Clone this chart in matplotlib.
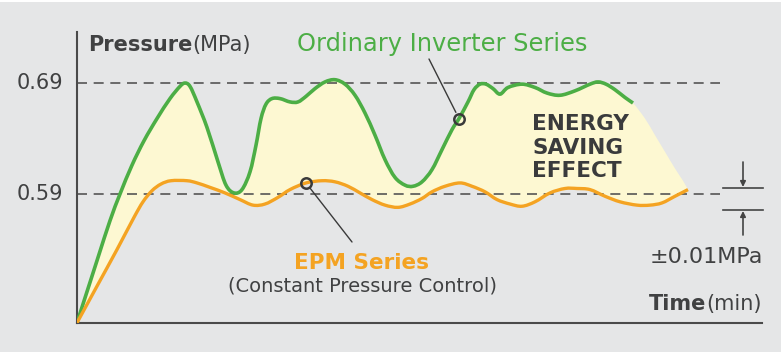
import matplotlib as mpl
mpl.use('Agg')
from matplotlib import pyplot as plt
from matplotlib.patches import Rectangle, PathPatch, FancyArrowPatch
from matplotlib.path import Path
import numpy as np

W, H = 781, 354

# time axis is arbitrary (no ticks), pressure in MPa
green_t = [0, 20, 33, 43, 55, 67, 80, 93, 103, 108, 113, 120, 130, 141, 149, 157,
           165, 173, 179, 184, 189, 195, 203, 213, 221, 229, 238, 248, 258, 268,
           278, 288, 298, 308, 318, 328, 336, 345, 355, 365, 375, 382, 391, 397,
           403, 409, 416, 423, 431, 445, 458, 470, 483, 498, 513, 521,
           529, 538, 548, 556]
green_p = [0.474, 0.530, 0.566, 0.590, 0.616, 0.638, 0.658, 0.676, 0.687, 0.690,
           0.687, 0.673, 0.650, 0.619, 0.598, 0.591, 0.594, 0.610, 0.634, 0.658,
           0.671, 0.676, 0.676, 0.673, 0.673, 0.678, 0.685, 0.691, 0.693, 0.689,
           0.679, 0.663, 0.643, 0.621, 0.605, 0.598, 0.597, 0.601, 0.612, 0.630,
           0.648, 0.658, 0.673, 0.684, 0.689, 0.689, 0.685, 0.680, 0.686, 0.689,
           0.686, 0.681, 0.679, 0.683, 0.689, 0.691, 0.689, 0.684, 0.677, 0.672]

# where the saving area keeps going after the green line stops
fade_t = [568, 578, 588, 598, 606]
fade_p = [0.658, 0.643, 0.628, 0.613, 0.602]

orange_t = [0, 20, 40, 57, 66, 75, 84, 94, 110, 120, 133, 148, 163, 176, 188, 201,
            213, 229, 245, 258, 271, 283, 295, 308, 321, 333, 345, 355, 368, 383,
            395, 408, 420, 433, 445, 458, 473, 488, 500, 513, 528, 543, 560,
            573, 585, 598, 611]
orange_p = [0.474, 0.507, 0.540, 0.569, 0.583, 0.593, 0.599, 0.602, 0.602, 0.600,
            0.596, 0.591, 0.585, 0.580, 0.581, 0.587, 0.594, 0.600, 0.602, 0.601,
            0.597, 0.591, 0.585, 0.580, 0.578, 0.581, 0.586, 0.592, 0.597, 0.600,
            0.597, 0.592, 0.585, 0.581, 0.579, 0.583, 0.591, 0.595, 0.595, 0.594,
            0.588, 0.583, 0.580, 0.580, 0.582, 0.588, 0.594]

ref_levels = [0.69, 0.59]
ref_labels = ['0.69', '0.59']
green_mark = (382, 0.658)
orange_mark = (229, 0.600)

GREEN = '#4cae45'
ORANGE = '#f4a322'
FILL = '#fdf8d2'
BG = '#e5e6e7'
DARK = '#404142'


def px(x, y):
    return x / W, 1 - y / H


def smooth_verts(t, p):
    """Catmull-Rom through the points, as cubic bezier path pieces."""
    pts = np.column_stack([t, p]).astype(float)
    ext = np.vstack([pts[0], pts, pts[-1]])
    verts = [pts[0]]
    codes = [Path.MOVETO]
    for i in range(len(pts) - 1):
        p0, p1, p2, p3 = ext[i], ext[i + 1], ext[i + 2], ext[i + 3]
        verts += [p1 + (p2 - p0) / 6, p2 - (p3 - p1) / 6, p2]
        codes += [Path.CURVE4] * 3
    return verts, codes


def smooth_line(ax, t, p, **kw):
    verts, codes = smooth_verts(t, p)
    ax.add_patch(PathPatch(Path(verts, codes), fill=False, capstyle='butt',
                           joinstyle='round', **kw))


fig = plt.figure(figsize=(W / 100, H / 100), dpi=100, facecolor='white')
fig.patches.append(Rectangle((0, 2 / H), 1, 1 - 4 / H, transform=fig.transFigure,
                             facecolor=BG, edgecolor='none', zorder=-10))

ax = fig.add_axes([77 / W, 1 - 323 / H, (762 - 77) / W, (323 - 32) / H])
ax.patch.set_visible(False)
ax.set_xlim(0, 685)
ax.set_ylim(0.4738, 0.736)
for side in ['top', 'right']:
    ax.spines[side].set_visible(False)
for side in ['left', 'bottom']:
    ax.spines[side].set_color('#4a4a4a')
    ax.spines[side].set_linewidth(1.5)
ax.set_xticks([])
ax.set_yticks([])

# saving area between the two series
up_v, up_c = smooth_verts(green_t + fade_t, green_p + fade_p)
lo_v, lo_c = smooth_verts(orange_t[::-1], orange_p[::-1])
lo_c = [Path.LINETO] + lo_c[1:]
area = Path(up_v + lo_v + [up_v[0]], up_c + lo_c + [Path.CLOSEPOLY])
ax.add_patch(PathPatch(area, facecolor=FILL, edgecolor='none', zorder=1))

for lvl, lab in zip(ref_levels, ref_labels):
    ax.plot([0, 643], [lvl, lvl], color='#555555', lw=1.2, ls=(0, (6, 4)), zorder=2)
    ax.text(-14, lvl, lab, ha='right', va='center', fontsize=15, color=DARK)

smooth_line(ax, green_t, green_p, edgecolor=GREEN, lw=2.6, zorder=3)
smooth_line(ax, orange_t, orange_p, edgecolor=ORANGE, lw=2.4, zorder=3)

for mark in [green_mark, orange_mark]:
    ax.plot(*mark, 'o', ms=7.5, mfc='none', mec='#3a3a3a', mew=1.8, zorder=4)

ax.annotate('', xy=green_mark, xytext=px(429, 59), textcoords='figure fraction',
            arrowprops=dict(arrowstyle='-', color='#3a3a3a', lw=1, shrinkA=0, shrinkB=5))
ax.annotate('', xy=orange_mark, xytext=px(352, 242), textcoords='figure fraction',
            arrowprops=dict(arrowstyle='-', color='#3a3a3a', lw=1, shrinkA=0, shrinkB=5))

renderer = fig.canvas.get_renderer()

# Pressure(MPa)
t1 = fig.text(*px(88, 51), 'Pressure', fontsize=15, fontweight='bold', color=DARK,
              ha='left', va='baseline')
bb = t1.get_window_extent(renderer)
fig.text(bb.x1 / W, 1 - 51 / H, '(MPa)', fontsize=15, color=DARK, ha='left', va='baseline')

# Time(min)
t2 = fig.text(*px(762, 310), '(min)', fontsize=15, color=DARK, ha='right', va='baseline')
bb = t2.get_window_extent(renderer)
fig.text(bb.x0 / W, 1 - 310 / H, 'Time', fontsize=15, fontweight='bold', color=DARK,
         ha='right', va='baseline')

fig.text(*px(297, 51), 'Ordinary Inverter Series', fontsize=17.4, color=GREEN,
         ha='left', va='baseline')
fig.text(*px(362, 269), 'EPM Series', fontsize=15.5, fontweight='bold', color=ORANGE,
         ha='center', va='baseline')
fig.text(*px(362, 292), '(Constant Pressure Control)', fontsize=14, color=DARK,
         ha='center', va='baseline')
for i, word in enumerate(['ENERGY', 'SAVING', 'EFFECT']):
    fig.text(*px(532, 130 + 23.5 * i), word, fontsize=15.5, fontweight='bold',
             color='#3a3b3c', ha='left', va='baseline')
fig.text(*px(763, 263), '\u00b10.01MPa', fontsize=16, color=DARK, ha='right', va='baseline')

# tolerance marker
for yy in [188, 210]:
    fig.add_artist(plt.Line2D([723 / W, 763 / W], [1 - yy / H, 1 - yy / H],
                              color='#444444', lw=1.2))
fig.add_artist(FancyArrowPatch(px(743, 162), px(743, 187), transform=fig.transFigure,
                               arrowstyle='-|>', mutation_scale=8, color='#444444',
                               lw=1.2, shrinkA=0, shrinkB=0))
fig.add_artist(FancyArrowPatch(px(743, 235), px(743, 211), transform=fig.transFigure,
                               arrowstyle='-|>', mutation_scale=8, color='#444444',
                               lw=1.2, shrinkA=0, shrinkB=0))

fig.savefig('out.png', dpi=100, facecolor='white')
